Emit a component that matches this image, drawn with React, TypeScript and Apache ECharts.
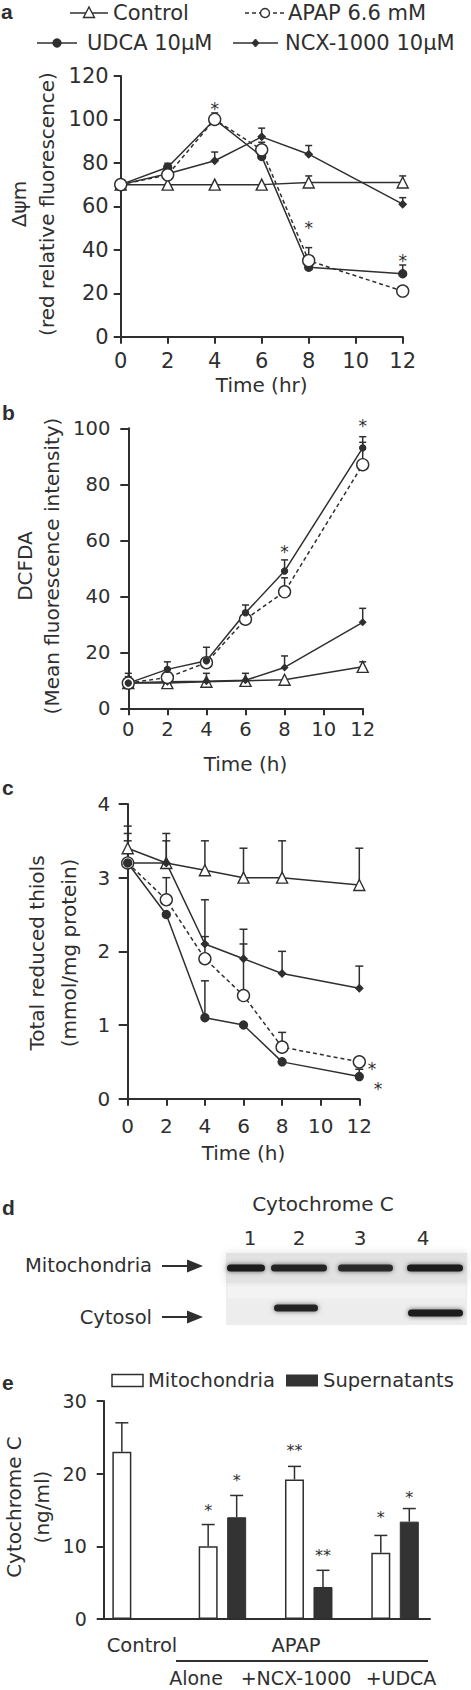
import React, { useEffect, useRef } from "react";
import * as echarts from "echarts";

const INK = "#2f2f2f";
const FONT = "DejaVu Sans";

// ---------- shared ----------
const times = [0, 2, 4, 6, 8, 12];
const legendNames = ["Control", "APAP 6.6 mM", "UDCA 10\u03bcM", "NCX-1000 10\u03bcM"];

// ---------- panel a : mitochondrial potential ----------
const aControl = [70, 70, 70, 70, 71, 71];
const aControlErr = [null, null, null, null, 74, 74];
const aAPAP = [70, 74.5, 100, 86, 35, 21];
const aAPAPErr = [null, null, 103, 89.5, 41, null];
const aUDCA = [70, 78, 100, 83, 32, 29];
const aUDCAErr = [null, 79.8, null, null, null, 33];
const aNCX = [70, 75, 81, 92, 84, 61];
const aNCXErr = [null, null, 85, 96, 88, 64];
const aStars = [[4, 105], [8, 50], [12, 35]];

// ---------- panel b : DCFDA ----------
const bControl = [9, 9, 9.5, 9.8, 10.2, 14.8];
const bControlErr = [11.3, null, null, null, null, 16.6];
const bAPAP = [9, 11, 16.3, 31.8, 41.6, 87];
const bAPAPErr = [null, null, null, null, 46.6, 95];
const bUDCA = [9, 13.9, 17, 34.1, 49, 93];
const bUDCAErr = [12.5, 16.6, 21.8, 36.9, 53, 97];
const bNCX = [9, 9.5, 9.7, 10, 14.6, 30.7];
const bNCXErr = [null, null, 12.5, 12.5, 18.7, 35.7];
const bStars = [[8, 56], [12, 101]];

// ---------- panel c : total reduced thiols ----------
const cControl = [3.4, 3.2, 3.1, 3.0, 3.0, 2.9];
const cControlErr = [3.7, 3.6, 3.5, 3.4, 3.5, 3.4];
const cAPAP = [3.2, 2.7, 1.9, 1.4, 0.7, 0.5];
const cAPAPErr = [3.6, 3.0, 2.2, 2.1, 0.9, null];
const cUDCA = [3.2, 2.5, 1.1, 1.0, 0.5, 0.3];
const cUDCAErr = [3.5, null, 1.6, null, null, 0.4];
const cNCX = [3.2, 3.2, 2.1, 1.9, 1.7, 1.5];
const cNCXErr = [null, 3.5, 2.7, 2.3, 2.0, 1.8];
const cStars = [[12.66, 0.4], [12.97, 0.13]];

// ---------- panel d : western blot ----------
const blotLanes = ["1", "2", "3", "4"];
const blotRows = ["Mitochondria", "Cytosol"];
const mitoBand = [1, 0.95, 0.9, 1];
const cytoBand = [0, 0.95, 0, 1];

// ---------- panel e : cytochrome C ----------
const eGroups = [0, 1, 2, 3]; // Control, APAP alone, APAP+NCX-1000, APAP+UDCA
const eMito = [23, 10, 19.2, 9.1];
const eMitoErr = [27, 13, 21, 11.5];
const eSup = [null, 14, 4.4, 13.4];
const eSupErr = [null, 17, 6.7, 15.2];
const eMitoStars = ["", "*", "**", "*"];
const eMitoStarY = [null, 15.0, 23.2, 13.9];
const eSupStars = ["", "*", "**", "*"];
const eSupStarY = [null, 19.0, 8.7, 16.7];
const eLegend = ["Mitochondria", "Supernatants"];
const eGroupLabels = ["Control", "APAP", "Alone", "+NCX-1000", "+UDCA"];

// ---------- geometry / styles ----------
const BAR_W = 19;
const BAR_SHIFT = 14.25;

const STY: Record<string, any> = {
  control: { symbol: "triangle", size: 11, fill: "#fff", type: "solid" },
  apap: { symbol: "circle", size: 12, fill: "#fff", type: [4, 3] },
  udca: { symbol: "circle", size: 8, fill: INK, type: "solid" },
  ncx: { symbol: "diamond", size: 7, fill: INK, type: "solid" },
};

function lineSeries(idx: number, name: string, vals: number[], key: string, sizeOverride?: number) {
  const s = STY[key];
  return {
    type: "line",
    name,
    xAxisIndex: idx,
    yAxisIndex: idx,
    data: times.map((t, i) => [t, vals[i]]),
    symbol: s.symbol,
    symbolSize: sizeOverride ?? s.size,
    showAllSymbol: true,
    itemStyle: { color: s.fill, borderColor: INK, borderWidth: 1.4 },
    lineStyle: { color: INK, width: 1.5, type: s.type },
    z: 3,
  };
}

function errRows(pairs: [number[], (number | null)[]][]) {
  const out: number[][] = [];
  pairs.forEach(([vals, errs]) =>
    times.forEach((t, i) => {
      const e = errs[i];
      if (e != null) out.push([t, vals[i], e, 0]);
    })
  );
  return out;
}

function errorSeries(idx: number, rows: number[][], cap: number) {
  return {
    type: "custom",
    xAxisIndex: idx,
    yAxisIndex: idx,
    data: rows,
    z: 2,
    encode: { x: 0, y: 1 },
    renderItem: (_p: any, api: any) => {
      const x = api.value(0);
      const a = api.coord([x, api.value(1)]);
      const b = api.coord([x, api.value(2)]);
      const px = a[0] + api.value(3) * BAR_SHIFT;
      const st = { stroke: INK, lineWidth: 1.5 };
      return {
        type: "group",
        children: [
          { type: "line", shape: { x1: px, y1: a[1], x2: px, y2: b[1] }, style: st },
          { type: "line", shape: { x1: px - cap / 2, y1: b[1], x2: px + cap / 2, y2: b[1] }, style: st },
        ],
      };
    },
  };
}

function starSeries(idx: number, pts: number[][], texts: string[], fontSize: number) {
  return {
    type: "custom",
    xAxisIndex: idx,
    yAxisIndex: idx,
    data: pts,
    z: 4,
    encode: { x: 0, y: 1 },
    renderItem: (p: any, api: any) => {
      const c = api.coord([api.value(0), api.value(1)]);
      const side = pts[p.dataIndex][2] || 0;
      return {
        type: "text",
        x: c[0] + side * BAR_SHIFT,
        y: c[1],
        style: {
          text: texts[p.dataIndex],
          fontSize,
          fontFamily: FONT,
          fill: INK,
          align: "center",
          textAlign: "center",
          verticalAlign: "middle",
          textVerticalAlign: "middle",
        },
      };
    },
  };
}

function timeAxis(idx: number, name: string, labelMargin: number, nameGap: number, fs: number) {
  return {
    gridIndex: idx,
    type: "value",
    min: 0,
    max: 12,
    interval: 2,
    name,
    nameLocation: "middle",
    nameGap,
    nameTextStyle: { fontSize: 20, color: INK, fontFamily: FONT },
    axisLine: { show: true, onZero: false, lineStyle: { color: INK, width: 2 } },
    axisTick: { show: true, length: 7, lineStyle: { color: INK, width: 2 } },
    axisLabel: { fontSize: fs, margin: labelMargin, color: INK, fontFamily: FONT },
    splitLine: { show: false },
  };
}

function valAxis(idx: number, max: number, interval: number, margin: number, tick: number, fs: number) {
  return {
    gridIndex: idx,
    type: "value",
    min: 0,
    max,
    interval,
    axisLine: { show: true, onZero: false, lineStyle: { color: INK, width: 2 } },
    axisTick: { show: true, length: tick, lineStyle: { color: INK, width: 2 } },
    axisLabel: { fontSize: fs, margin, color: INK, fontFamily: FONT },
    splitLine: { show: false },
  };
}

function txt(text: string, x: number, y: number, fs: number, align = "left", extra: any = {}) {
  return {
    type: "text",
    x,
    y,
    z: 10,
    style: {
      text,
      fontSize: fs,
      fontFamily: FONT,
      fill: INK,
      align,
      textAlign: align,
      verticalAlign: "middle",
      textVerticalAlign: "middle",
      ...extra,
    },
  };
}

function letter(t: string, x: number, y: number) {
  return txt(t, x, y, 21, "left", { fontWeight: "bold", fontFamily: "Liberation Sans" });
}

function rotName(text: string, x: number, y: number, lh: number) {
  return {
    type: "text",
    x,
    y,
    rotation: Math.PI / 2,
    z: 10,
    style: {
      text,
      fontSize: 20,
      lineHeight: lh,
      fontFamily: FONT,
      fill: INK,
      align: "center",
      textAlign: "center",
      verticalAlign: "middle",
      textVerticalAlign: "middle",
    },
  };
}

function legendItem(key: string, x1: number, x2: number, y: number, label: string, tx: number) {
  const s = STY[key];
  const cx = (x1 + x2) / 2;
  const line = {
    type: "line",
    shape: { x1, y1: y, x2, y2: y },
    style: { stroke: INK, lineWidth: 1.5, lineDash: key === "apap" ? [4, 3] : null },
  };
  let sym: any;
  if (s.symbol === "triangle") {
    sym = { type: "polygon", shape: { points: [[cx, y - 6], [cx + 5.5, y + 4.5], [cx - 5.5, y + 4.5]] }, style: { fill: "#fff", stroke: INK, lineWidth: 1.4 } };
  } else if (s.symbol === "diamond") {
    sym = { type: "polygon", shape: { points: [[cx, y - 4], [cx + 3.5, y], [cx, y + 4], [cx - 3.5, y]] }, style: { fill: INK, stroke: INK, lineWidth: 1 } };
  } else {
    sym = { type: "circle", shape: { cx, cy: y, r: key === "apap" ? 4.5 : 4 }, style: { fill: s.fill, stroke: INK, lineWidth: 1.4 } };
  }
  return [line, sym, txt(label, tx, y, 21)];
}

function arrow(x1: number, x2: number, y: number) {
  return [
    { type: "line", shape: { x1, y1: y, x2: x2 - 12, y2: y }, style: { stroke: INK, lineWidth: 2 } },
    { type: "polygon", shape: { points: [[x2 - 16, y - 6.5], [x2, y], [x2 - 16, y + 6.5]] }, style: { fill: INK } },
  ];
}

function blot() {
  const els: any[] = [];
  els.push({ type: "rect", shape: { x: 226, y: 1253, width: 241, height: 72 }, style: { fill: "#ededed" } });
  els.push({ type: "rect", shape: { x: 226, y: 1253, width: 241, height: 30 }, style: { fill: "#e2e2e2", shadowBlur: 8, shadowColor: "#e2e2e2" } });
  els.push({ type: "rect", shape: { x: 228, y: 1286, width: 237, height: 12 }, style: { fill: "#f3f3f3", shadowBlur: 6, shadowColor: "#f3f3f3" } });
  const mitoX = [[227, 265], [271, 327], [338, 393], [407, 463]];
  const cytoX = [[227, 265], [274, 318], [338, 393], [408, 463]];
  const cytoY = [1308, 1308, 1311, 1313];
  mitoBand.forEach((v, i) => {
    if (!v) return;
    const [a, b] = mitoX[i];
    els.push({
      type: "rect",
      shape: { x: a, y: 1264.5, width: b - a, height: 7, r: 3.5 },
      style: { fill: "#1d1d1d", opacity: v, shadowBlur: 5, shadowColor: "rgba(0,0,0,0.6)" },
    });
  });
  cytoBand.forEach((v, i) => {
    if (!v) return;
    const [a, b] = cytoX[i];
    els.push({
      type: "rect",
      shape: { x: a, y: cytoY[i] - 3.5, width: b - a, height: 7, r: 3.5 },
      style: { fill: "#1d1d1d", opacity: v, shadowBlur: 5, shadowColor: "rgba(0,0,0,0.6)" },
    });
  });
  const laneX = [250, 299, 360, 423];
  blotLanes.forEach((l, i) => els.push(txt(l, laneX[i], 1238, 20, "center")));
  els.push(txt("Cytochrome C", 323, 1204, 20, "center"));
  els.push(txt(blotRows[0], 152, 1265, 19.5, "right"));
  els.push(txt(blotRows[1], 152, 1317, 19.5, "right"));
  els.push(...arrow(162, 203, 1266));
  els.push(...arrow(162, 203, 1317));
  return els;
}

function buildOption() {
  const grids = [
    { left: 120.7, top: 76, width: 282, height: 260.7 },
    { left: 128.3, top: 428.3, width: 234.4, height: 280 },
    { left: 127.7, top: 804, width: 231.6, height: 294.7 },
    { left: 103.3, top: 1401, width: 326.7, height: 218 },
  ];

  const xAxes = [
    timeAxis(0, "Time (hr)", 14, 38, 21),
    timeAxis(1, "Time (h)", 11, 46, 19.5),
    timeAxis(2, "Time (h)", 17, 44, 20),
    {
      gridIndex: 3,
      type: "value",
      min: -0.38,
      max: 3.405,
      axisLine: { show: true, onZero: false, lineStyle: { color: INK, width: 2 } },
      axisTick: { show: false },
      axisLabel: { show: false },
      splitLine: { show: false },
    },
  ];
  const yAxes = [
    valAxis(0, 120, 20, 12, 7, 21),
    valAxis(1, 100, 20, 18, 8, 19.5),
    valAxis(2, 4, 1, 17.5, 9, 20),
    valAxis(3, 30, 10, 16.5, 6.6, 19),
  ];

  const series: any[] = [];
  // panel a
  series.push(errorSeries(0, errRows([[aControl, aControlErr], [aAPAP, aAPAPErr], [aUDCA, aUDCAErr], [aNCX, aNCXErr]]), 7));
  series.push(lineSeries(0, legendNames[2], aUDCA, "udca"));
  series.push(lineSeries(0, legendNames[3], aNCX, "ncx"));
  series.push(lineSeries(0, legendNames[0], aControl, "control"));
  series.push(lineSeries(0, legendNames[1], aAPAP, "apap"));
  series.push(starSeries(0, aStars, aStars.map(() => "*"), 17));
  // panel b
  series.push(errorSeries(1, errRows([[bControl, bControlErr], [bAPAP, bAPAPErr], [bUDCA, bUDCAErr], [bNCX, bNCXErr]]), 7));
  series.push(lineSeries(1, legendNames[0], bControl, "control"));
  series.push(lineSeries(1, legendNames[3], bNCX, "ncx", 6));
  series.push(lineSeries(1, legendNames[1], bAPAP, "apap"));
  series.push(lineSeries(1, legendNames[2], bUDCA, "udca", 6));
  series.push(starSeries(1, bStars, bStars.map(() => "*"), 17));
  // panel c
  series.push(errorSeries(2, errRows([[cControl, cControlErr], [cAPAP, cAPAPErr], [cUDCA, cUDCAErr], [cNCX, cNCXErr]]), 8));
  series.push(lineSeries(2, legendNames[0], cControl, "control"));
  series.push(lineSeries(2, legendNames[3], cNCX, "ncx"));
  series.push(lineSeries(2, legendNames[1], cAPAP, "apap"));
  series.push(lineSeries(2, legendNames[2], cUDCA, "udca"));
  series.push(starSeries(2, cStars, cStars.map(() => "*"), 17));
  // panel e
  series.push({
    type: "bar",
    name: eLegend[0],
    xAxisIndex: 3,
    yAxisIndex: 3,
    data: eGroups.map((g, i) => [g, eMito[i]]),
    barWidth: BAR_W,
    barGap: "50%",
    itemStyle: { color: "#fff", borderColor: INK, borderWidth: 1.5 },
    z: 3,
  });
  series.push({
    type: "bar",
    name: eLegend[1],
    xAxisIndex: 3,
    yAxisIndex: 3,
    data: eGroups.map((g, i) => [g, eSup[i] == null ? "-" : eSup[i]]),
    barWidth: BAR_W,
    barGap: "50%",
    itemStyle: { color: "#333", borderColor: INK, borderWidth: 1 },
    z: 3,
  });
  const eErr: number[][] = [];
  eGroups.forEach((g, i) => {
    if (eMitoErr[i] != null) eErr.push([g, eMito[i], eMitoErr[i] as number, -1]);
    if (eSupErr[i] != null) eErr.push([g, eSup[i] as number, eSupErr[i] as number, 1]);
  });
  series.push(errorSeries(3, eErr, 13));
  const eStarPts: number[][] = [];
  const eStarTxt: string[] = [];
  eGroups.forEach((g, i) => {
    if (eMitoStarY[i] != null) { eStarPts.push([g, eMitoStarY[i] as number, -1]); eStarTxt.push(eMitoStars[i]); }
    if (eSupStarY[i] != null) { eStarPts.push([g, eSupStarY[i] as number, 1]); eStarTxt.push(eSupStars[i]); }
  });
  series.push(starSeries(3, eStarPts, eStarTxt, 16));

  const graphics: any[] = [
    letter("a", 1, 11),
    letter("b", 2, 412),
    letter("c", 2, 787),
    letter("d", 2, 1207),
    letter("e", 2, 1382),
    ...legendItem("control", 70, 108, 13, legendNames[0], 113),
    ...legendItem("apap", 245, 285, 13, legendNames[1], 288),
    ...legendItem("udca", 37, 77, 43, legendNames[2], 87),
    ...legendItem("ncx", 233, 278, 43, legendNames[3], 285),
    rotName("\u0394\u03c8m\n(red relative fluorescence)", 33, 204, 28),
    rotName("DCFDA\n(Mean fluorescence intensity)", 38.5, 566, 27),
    rotName("Total reduced thiols\n(mmol/mg protein)", 53, 953, 32),
    rotName("Cytochrome C\n(ng/ml)", 28, 1507, 28),
    ...blot(),
    { type: "rect", shape: { x: 112, y: 1374.5, width: 31, height: 12 }, style: { fill: "#fff", stroke: INK, lineWidth: 1.5 } },
    txt(eLegend[0], 148, 1380, 19.5),
    { type: "rect", shape: { x: 286, y: 1374.5, width: 32, height: 12 }, style: { fill: "#333" } },
    txt(eLegend[1], 323, 1380, 19.5),
    txt(eGroupLabels[0], 142, 1645, 19.5, "center"),
    txt(eGroupLabels[1], 296, 1645, 19.5, "center"),
    { type: "line", shape: { x1: 176, y1: 1661, x2: 428, y2: 1661 }, style: { stroke: INK, lineWidth: 2 } },
    txt(eGroupLabels[2], 196, 1678, 19, "center"),
    txt(eGroupLabels[3], 296, 1678, 19, "center"),
    txt(eGroupLabels[4], 401, 1678, 19, "center"),
  ];

  return {
    animation: false,
    backgroundColor: "#fff",
    textStyle: { fontFamily: FONT, color: INK },
    grid: grids,
    xAxis: xAxes,
    yAxis: yAxes,
    series,
    graphic: { elements: graphics },
  };
}

export default function App() {
  const ref = useRef<HTMLDivElement>(null);
  useEffect(() => {
    document.body.style.margin = "0";
    if (!ref.current) return;
    const chart = echarts.init(ref.current, null, { renderer: "svg" });
    chart.setOption(buildOption() as any);
    return () => chart.dispose();
  }, []);
  return <div ref={ref} style={{ width: 471, height: 1690 }} />;
}
